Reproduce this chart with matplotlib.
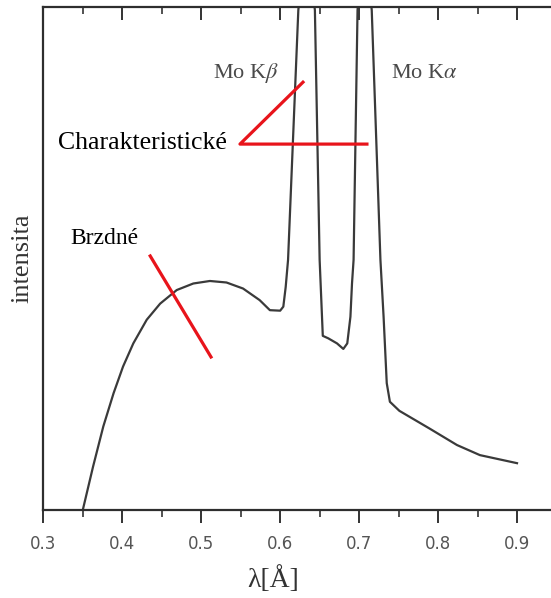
import numpy as np
import matplotlib
matplotlib.use("Agg")
import matplotlib.pyplot as plt

# spectrum (intensity in arbitrary units, 1.0 = top of frame)
wavelength = [0.350, 0.363, 0.376, 0.389, 0.401, 0.414, 0.431, 0.448, 0.469, 0.490,
              0.511, 0.532, 0.553, 0.574, 0.587, 0.600, 0.604, 0.607, 0.610, 0.623,
              0.633, 0.644, 0.650, 0.654, 0.661, 0.672, 0.680, 0.685, 0.689, 0.691,
              0.693, 0.698, 0.706, 0.716, 0.727, 0.731, 0.735, 0.739, 0.751, 0.789,
              0.824, 0.853, 0.900]
intensity = [0.000, 0.086, 0.166, 0.232, 0.285, 0.331, 0.378, 0.410, 0.437, 0.450,
             0.455, 0.452, 0.440, 0.417, 0.397, 0.396, 0.404, 0.443, 0.497, 0.993,
             1.150, 0.993, 0.497, 0.346, 0.341, 0.331, 0.320, 0.331, 0.384, 0.450,
             0.497, 0.993, 1.150, 0.993, 0.497, 0.384, 0.252, 0.215, 0.197, 0.162,
             0.129, 0.109, 0.093]

x_ticks = [0.3, 0.4, 0.5, 0.6, 0.7, 0.8, 0.9]
x_tick_labels = ["0.3", "0.4", "0.5", "0.6", "0.7", "0.8", "0.9"]

plt.rcParams["mathtext.fontset"] = "stix"
serif = ["Liberation Serif", "DejaVu Serif"]
ink = "#3a3a3a"
red = "#e8141b"

fig = plt.figure(figsize=(5.51, 5.98), dpi=100)
ax = fig.add_axes([0.0786, 0.1472, 1.003, 0.8416])

ax.plot(wavelength, intensity, color=ink, lw=1.6, solid_joinstyle="round")
ax.set_xlim(0.3, 1.0)
ax.set_ylim(0, 1)

for side in ["left", "bottom", "top"]:
    ax.spines[side].set_linewidth(1.6)
    ax.spines[side].set_color("#2e2e2e")
ax.spines["right"].set_visible(False)

ax.set_xticks(x_ticks)
ax.set_xticklabels(x_tick_labels)
ax.set_xticks(np.arange(0.35, 1.0, 0.1), minor=True)
ax.set_yticks([])
ax.tick_params(axis="x", which="major", direction="out", length=9, width=1.4,
               colors="#333333", labelsize=12, labelcolor="#555555", pad=9,
               top=True)
ax.tick_params(axis="x", which="minor", direction="out", length=5, width=1.2,
               colors="#333333", top=True)
# top ticks point inwards
for t in ax.xaxis.get_major_ticks() + ax.xaxis.get_minor_ticks():
    t.tick2line.set_marker(3)

ax.set_xlabel("λ[Å]", family=serif, fontsize=20, color="#333333", va="center")
ax.xaxis.set_label_coords(0.416, -0.139)
ax.set_ylabel("intensita", family=serif, fontsize=19, color="#333333",
              va="center", ha="center")
ax.yaxis.set_label_coords(-0.0386, 0.5)

# peak labels
ax.text(0.515, 0.868, r"Mo K$\beta$", family=serif, fontsize=16, color="#4a4a4a",
        va="center", ha="left")
ax.text(0.741, 0.868, r"Mo K$\alpha$", family=serif, fontsize=16, color="#4a4a4a",
        va="center", ha="left")

# annotations
ax.text(0.3186, 0.729, "Charakteristické", family=serif, fontsize=18.5, color="black",
        va="center", ha="left")
ax.text(0.334, 0.540, "Brzdné", family=serif, fontsize=17, color="black",
        va="center", ha="left")
ax.plot([0.4354, 0.5124], [0.5047, 0.304], color=red, lw=2.3)
ax.plot([0.6289, 0.5491, 0.7099], [0.850, 0.727, 0.727], color=red, lw=2.3)

fig.savefig("out.png", dpi=100)
